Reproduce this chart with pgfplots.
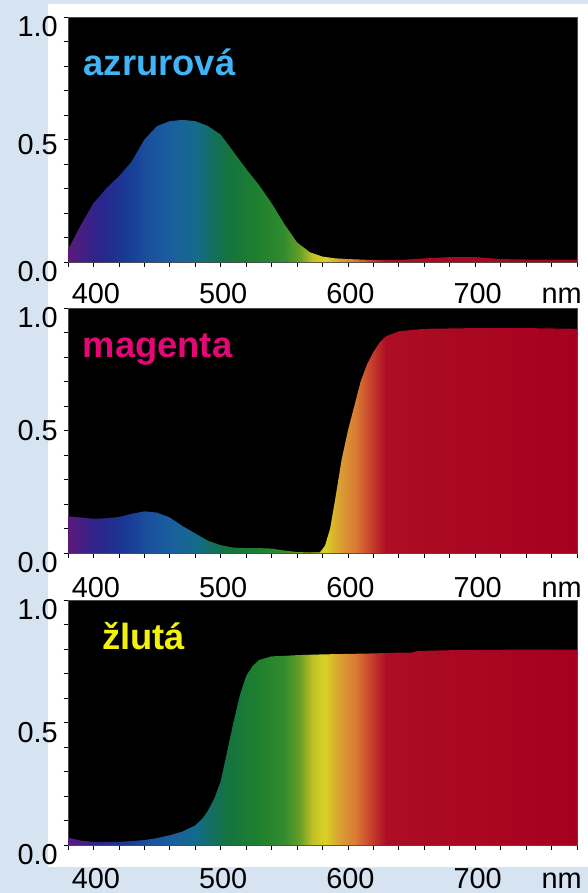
\documentclass[border=0pt]{standalone}
\usepackage{pgfplots}
\pgfplotsset{compat=1.18}
\usepackage{fontspec}
\setmainfont{Liberation Sans}

\definecolor{bgblue}{RGB}{214,228,242}
\definecolor{lblcyan}{RGB}{64,180,244}
\definecolor{lblmag}{RGB}{228,8,118}
\definecolor{lblyel}{RGB}{242,242,10}

% spectrum colours, 380 nm at 25bp, 780 nm at 75bp
\definecolor{s380}{RGB}{90,26,122}
\definecolor{s390}{RGB}{72,30,132}
\definecolor{s405}{RGB}{40,38,140}
\definecolor{s425}{RGB}{26,56,148}
\definecolor{s443}{RGB}{26,80,158}
\definecolor{s460}{RGB}{26,94,158}
\definecolor{s480}{RGB}{20,107,140}
\definecolor{s493}{RGB}{20,110,96}
\definecolor{s505}{RGB}{20,115,64}
\definecolor{s530}{RGB}{31,128,46}
\definecolor{s550}{RGB}{51,140,46}
\definecolor{s562}{RGB}{102,158,38}
\definecolor{s572}{RGB}{192,192,38}
\definecolor{s582}{RGB}{217,209,38}
\definecolor{s594}{RGB}{217,158,51}
\definecolor{s606}{RGB}{217,122,51}
\definecolor{s618}{RGB}{199,64,46}
\definecolor{s630}{RGB}{173,13,36}
\definecolor{s780}{RGB}{166,0,31}

\pgfdeclarehorizontalshading{spectrum}{100bp}{
  color(0bp)=(s380); color(25bp)=(s380); color(26.25bp)=(s390);
  color(28.125bp)=(s405); color(30.625bp)=(s425); color(32.875bp)=(s443);
  color(35bp)=(s460); color(37.5bp)=(s480); color(39.125bp)=(s493);
  color(40.625bp)=(s505); color(43.75bp)=(s530); color(46.25bp)=(s550);
  color(47.75bp)=(s562); color(49bp)=(s572); color(50.25bp)=(s582);
  color(51.75bp)=(s594); color(53.25bp)=(s606); color(54.75bp)=(s618);
  color(56.25bp)=(s630); color(75bp)=(s780); color(100bp)=(s780)}

\pgfplotsset{
  panel/.style={
    scale only axis, width=509bp, height=245bp,
    xmin=380, xmax=780, ymin=0, ymax=1,
    axis background/.style={fill=black},
    axis line style={black!70, line width=0.8bp},
    tick style={black, line width=0.8bp},
    tick align=outside,
    major tick length=0pt, minor tick length=4.5bp,
    xtick={400,500,600,700,766},
    xticklabels={400,500,600,700,nm},
    minor xtick={380,400,...,780},
    ytick={0,1}, yticklabels={0.0,1.0},
    minor ytick={0,0.1,...,1},
    xtick pos=bottom, ytick pos=left,
    ticklabel style={font=\fontsize{29}{29}\selectfont},
    xticklabel style={anchor=base, inner sep=0pt, xshift=2.5bp},
    yticklabel style={anchor=east, inner sep=0pt, xshift=-10bp, yshift=-10bp},
    extra y ticks={0.5}, extra y tick labels={0.5},
    anchor=north west,
  },
  spec/.style={draw=none, shade, shading=spectrum, shading angle=0},
}
\tikzset{
  lbl/.style={anchor=base west, inner sep=0pt,
    font=\bfseries\fontsize{36.5}{40}\selectfont},
}

\begin{document}
\begin{tikzpicture}
\path[use as bounding box] (0,0) rectangle (588bp,-893bp);
\fill[bgblue] (0,0) rectangle (588bp,-893bp);
\fill[white] (48bp,-4bp) rectangle (588bp,-867bp);

% azurova
\begin{axis}[panel, at={(68bp,-17bp)},
  xticklabel style={yshift=-41bp},
  extra y tick style={yticklabel style={yshift=5bp}}]
\addplot[spec] coordinates {
  (380,0.05) (385,0.10) (390,0.15) (400,0.24) (410,0.30) (420,0.35)
  (430,0.41) (440,0.50) (450,0.555) (460,0.575) (470,0.58) (480,0.575)
  (490,0.555) (500,0.52) (510,0.45) (520,0.38) (530,0.315) (540,0.24)
  (550,0.155) (560,0.08) (570,0.04) (580,0.022) (590,0.015) (600,0.012)
  (620,0.008) (640,0.008) (660,0.015) (680,0.02) (700,0.02) (720,0.012)
  (740,0.01) (760,0.01) (780,0.01)
} \closedcycle;
\node[lbl, text=lblcyan] at (axis cs:392.2,0.763) {azrurová};
\end{axis}

% magenta
\begin{axis}[panel, at={(68bp,-308bp)},
  xticklabel style={yshift=-44bp},
  extra y tick style={yticklabel style={yshift=10bp}}]
\addplot[spec] coordinates {
  (380,0.15) (390,0.145) (400,0.14) (410,0.142) (420,0.147) (430,0.16)
  (440,0.17) (450,0.165) (460,0.145) (470,0.11) (480,0.08) (490,0.05)
  (500,0.032) (510,0.022) (520,0.02) (530,0.02) (540,0.018) (550,0.01)
  (560,0.004) (570,0.002) (578,0.003) (582,0.03) (586,0.10) (590,0.22)
  (595,0.38) (600,0.50) (605,0.60) (610,0.70) (615,0.77) (620,0.82)
  (625,0.86) (630,0.885) (640,0.905) (660,0.915) (700,0.918) (740,0.918)
  (780,0.915)
} \closedcycle;
\node[lbl, text=lblmag] at (axis cs:391.4,0.796) {magenta};
\end{axis}

% zluta
\begin{axis}[panel, at={(68bp,-600bp)},
  xticklabel style={yshift=-43bp},
  extra y tick style={yticklabel style={yshift=0bp}}]
\addplot[spec] coordinates {
  (380,0.03) (390,0.018) (400,0.013) (420,0.013) (440,0.02) (450,0.028)
  (460,0.04) (470,0.055) (480,0.08) (486,0.11) (490,0.14) (495,0.19)
  (500,0.26) (505,0.38) (510,0.50) (515,0.61) (520,0.69) (525,0.73)
  (530,0.755) (540,0.77) (550,0.772) (560,0.775) (580,0.778) (600,0.78)
  (620,0.782) (640,0.785) (650,0.785) (655,0.792) (680,0.795) (720,0.797)
  (780,0.798)
} \closedcycle;
\node[lbl, text=lblyel] at (axis cs:406.7,0.80) {žlutá};
\end{axis}
\end{tikzpicture}
\end{document}
